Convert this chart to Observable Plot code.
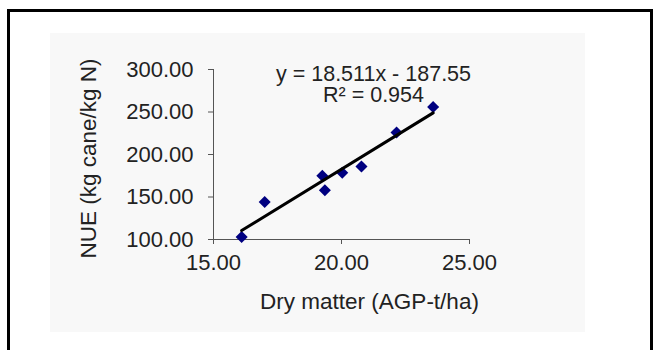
<!DOCTYPE html>
<html>
<head>
<meta charset="utf-8">
<script src="https://cdn.jsdelivr.net/npm/d3@7"></script>
<script src="https://cdn.jsdelivr.net/npm/@observablehq/plot@0.6"></script>
<style>
  html, body { margin: 0; padding: 0; background: #fff; overflow: hidden; }
  #wrap { position: relative; width: 656px; height: 350px; overflow: hidden; }
  #border { position: absolute; left: 7px; top: 9px; width: 640px; height: 400px; border: 3px solid #000; box-sizing: content-box; }
  #panel { position: absolute; left: 50px; top: 33px; width: 535px; height: 299px; background: #f8f8f8; }
  #chart { position: absolute; left: 0; top: 0; }
</style>
</head>
<body>
<div id="wrap">
  <div id="border"></div>
  <div id="panel"></div>
  <div id="chart"></div>
</div>
<script>
// Dry matter (AGP, t/ha) against nitrogen use efficiency (kg cane / kg N)
const dryMatter = [16.1, 17.0, 19.25, 19.35, 20.03, 20.78, 22.15, 23.58];
const nue = [103, 144, 175, 158, 178.5, 186, 226, 256];

// Linear trendline fitted to the points
const slope = 18.511;
const intercept = -187.55;
const rSquared = 0.954;

const xTicks = [15, 20, 25];
const yTicks = [100, 150, 200, 250, 300];

const points = dryMatter.map((x, i) => ({x, y: nue[i]}));
const xExtent = d3.extent(dryMatter);
const trend = xExtent.map(x => ({x, y: slope * x + intercept}));

const fmt = d3.format(".2f");
const equation = `y = ${slope}x - ${Math.abs(intercept)}`;
const r2Label = `R² = ${rSquared}`;

const font = "'Liberation Sans', Arial, sans-serif";
const ink = "#222";

const chart = Plot.plot({
  width: 656,
  height: 350,
  marginLeft: 213,
  marginRight: 187,
  marginTop: 69,
  marginBottom: 111,
  style: {background: "transparent", fontFamily: font, fontSize: "22px", color: ink, overflow: "visible"},
  x: {domain: [15, 25]},
  y: {domain: [100, 300]},
  marks: [
    Plot.ruleX([15], {stroke: "#555", strokeWidth: 1}),
    Plot.ruleY([100], {stroke: "#555", strokeWidth: 1}),
    Plot.axisY({ticks: yTicks, tickFormat: fmt, tickSize: 5, tickPadding: 15, stroke: "#555", fill: ink, label: null, fontSize: 22}),
    Plot.axisX({ticks: xTicks, tickFormat: fmt, tickSize: 5, tickPadding: 10, stroke: "#555", fill: ink, label: null, fontSize: 22}),
    Plot.dot(points, {x: "x", y: "y", symbol: "square", rotate: 45, r: 4.8, fill: "#000080", stroke: "none"}),
    Plot.line(trend, {x: "x", y: "y", stroke: "#000", strokeWidth: 3}),
    Plot.text([equation], {frameAnchor: "top", dx: 32, dy: 4.3, lineAnchor: "middle", fill: ink, fontSize: 21.5}),
    Plot.text([r2Label], {frameAnchor: "top", dx: 32, dy: 25.8, lineAnchor: "middle", fill: ink, fontSize: 21.5}),
    Plot.text(["NUE (kg cane/kg N)"], {frameAnchor: "left", textAnchor: "middle", dx: -125, dy: 4, rotate: -90, lineAnchor: "middle", fill: ink, fontSize: 22.5}),
    Plot.text(["Dry matter (AGP-t/ha)"], {frameAnchor: "bottom", textAnchor: "middle", dx: 28, dy: 62, lineAnchor: "middle", fill: ink, fontSize: 22.5})
  ]
});

document.getElementById("chart").appendChild(chart);
</script>
</body>
</html>
